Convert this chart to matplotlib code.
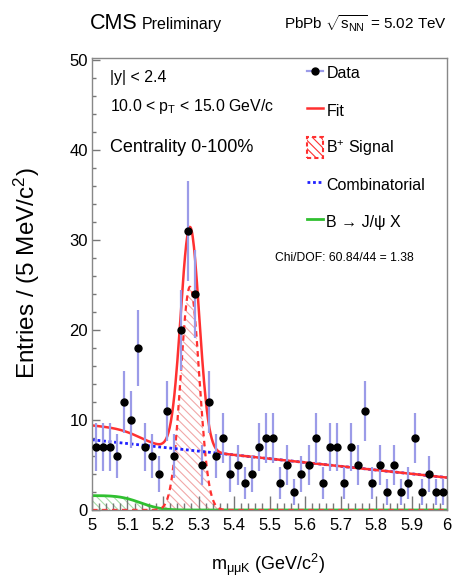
import math
import numpy as np
import matplotlib
matplotlib.use('Agg')
import matplotlib.pyplot as plt
from matplotlib import font_manager
from matplotlib.lines import Line2D
from matplotlib.patches import Patch

# B+ -> J/psi K+ invariant mass fit, PbPb 5.02 TeV, 10 < pT < 15 GeV/c

# -------------------------------------------------------
# Data (entries per bin)
# -------------------------------------------------------
mass_lo, mass_hi, n_bins = 5.0, 6.0, 50
counts = [7, 7, 7, 6, 12, 10, 18, 7, 6, 4,
          11, 6, 20, 31, 24, 5, 12, 6, 8, 4,
          5, 3, 4, 7, 8, 8, 3, 5, 2, 4,
          5, 8, 3, 7, 7, 3, 7, 5, 11, 3,
          5, 2, 5, 2, 3, 8, 2, 4, 2, 2]

# Fit components (per bin)
sig_amp, sig_mean, sig_sigma = 24.8, 5.276, 0.026
comb_lo, comb_hi = 7.8, 3.6
jpsix_amp, jpsix_edge, jpsix_width = 1.6, 5.137, 0.046

chi2_text = 'Chi/DOF: 60.84/44 = 1.38'

# -------------------------------------------------------
# Fonts
# -------------------------------------------------------
names = {f.name for f in font_manager.fontManager.ttflist}
family = 'Liberation Sans'
for cand in ['Liberation Sans Narrow', 'Arial Narrow']:
    if cand in names:
        family = cand
        break
plt.rcParams['font.family'] = [family, 'DejaVu Sans']
plt.rcParams['mathtext.fontset'] = 'custom'
plt.rcParams['mathtext.rm'] = family
plt.rcParams['mathtext.it'] = family + ':italic'
plt.rcParams['mathtext.default'] = 'regular'
plt.rcParams['hatch.linewidth'] = 0.8

# -------------------------------------------------------
# Curves
# -------------------------------------------------------
edges = np.linspace(mass_lo, mass_hi, n_bins + 1)
centers = 0.5 * (edges[:-1] + edges[1:])
y = np.array(counts, dtype=float)
yerr = np.sqrt(y)

m = np.linspace(mass_lo, mass_hi, 600)
signal = sig_amp * np.exp(-0.5 * ((m - sig_mean) / sig_sigma) ** 2)
comb = comb_lo + (comb_hi - comb_lo) * (m - mass_lo) / (mass_hi - mass_lo)
jpsix = jpsix_amp * 0.5 * np.array([math.erfc((v - jpsix_edge) / (jpsix_width * math.sqrt(2))) for v in m])
total = signal + comb + jpsix

# -------------------------------------------------------
# Figure
# -------------------------------------------------------
W, H = 466, 584
fig = plt.figure(figsize=(W / 100, H / 100), dpi=100)
ax = fig.add_axes([92 / W, 1 - 510 / H, 355 / W, 452 / H])

red = '#ff3030'
blue = '#2020ff'
green = '#30c030'
errc = '#9b9be8'

ax.fill_between(m, 0, signal, facecolor='none', edgecolor='#f2a8a8', hatch='\\\\\\\\', linewidth=0)
ax.fill_between(m, 0, jpsix, facecolor='none', edgecolor='#a8dca8', hatch='\\\\\\\\', linewidth=0)
ax.plot(m, jpsix, color=green, lw=2)
ax.plot(m, signal, color=red, lw=1.6, ls=(0, (2.5, 2)))
ax.plot(m, comb, color=blue, lw=2, ls=(0, (1, 1)))
ax.plot(m, total, color=red, lw=1.8)

ax.errorbar(centers, y, yerr=yerr, fmt='none', ecolor=errc, elinewidth=1.6, zorder=4)
ax.plot(centers, y, 'o', color='black', markersize=5, zorder=5)

ax.set_xlim(mass_lo, mass_hi)
ax.set_ylim(0, 50.2)
ax.set_xticks(np.round(np.arange(5.0, 6.01, 0.1), 1))
ax.set_xticklabels(['5', '5.1', '5.2', '5.3', '5.4', '5.5', '5.6', '5.7', '5.8', '5.9', '6'])
ax.set_xticks(np.arange(5.0, 6.001, 0.02), minor=True)
ax.set_yticks([0, 10, 20, 30, 40, 50])
ax.set_yticks(np.arange(0, 51, 2), minor=True)
ax.tick_params(axis='x', which='major', direction='in', length=10, width=1, color='#777', labelsize=12, pad=6)
ax.tick_params(axis='x', which='minor', direction='in', length=5, width=1, color='#777')
ax.tick_params(axis='y', which='major', direction='in', length=6, width=1, color='#777', labelsize=12, pad=3)
ax.tick_params(axis='y', which='minor', direction='in', length=3, width=1, color='#777')
for s in ax.spines.values():
    s.set_color('#888')
    s.set_linewidth(1)

ax.set_ylabel('Entries / (5 MeV/c$^{2}$)', fontsize=17.5)
ax.set_xlabel(r'm$_{\mu\mu K}$ (GeV/c$^{2}$)', fontsize=13)
ax.yaxis.set_label_coords(-0.141, 0.524)
ax.xaxis.set_label_coords(0.496, -0.093)

# Labels inside the frame
ax.text(0.051, 0.956, '|y| < 2.4', transform=ax.transAxes, fontsize=11.5, va='center')
ax.text(0.051, 0.892, '10.0 < p$_{T}$ < 15.0 GeV/c', transform=ax.transAxes, fontsize=11.4, va='center')
ax.text(0.051, 0.801, 'Centrality 0-100%', transform=ax.transAxes, fontsize=13, va='center')
ax.text(0.515, 0.558, chi2_text, transform=ax.transAxes, fontsize=8.7, va='center')

# Legend
handles = [
    Line2D([], [], color=errc, lw=1.6, marker='o', markersize=5, markerfacecolor='black', markeredgecolor='black'),
    Line2D([], [], color=red, lw=1.8),
    Patch(facecolor='none', edgecolor=red, hatch='\\\\\\\\', linestyle=(0, (2, 1.5)), linewidth=1.5),
    Line2D([], [], color=blue, lw=2, ls=(0, (1, 1))),
    Line2D([], [], color=green, lw=2),
]
labels = ['Data', 'Fit', 'B$^{+}$ Signal', 'Combinatorial', 'B \u2192 J/\u03c8 X']
leg = ax.legend(handles, labels, loc='upper left', bbox_to_anchor=(0.606, 0.990), frameon=False,
                fontsize=11.5, handlelength=1.0, handleheight=1.7, handletextpad=0.2,
                labelspacing=0.97, borderpad=0, borderaxespad=0)

# Header
fig.text(90 / W, 1 - 29 / H, 'CMS', fontsize=15.5, va='baseline')
fig.text(142 / W, 1 - 29 / H, 'Preliminary', fontsize=11.5, va='baseline')
fig.text(447 / W, 1 - 29 / H, r'PbPb $\sqrt{s_{NN}}$ = 5.02 TeV', fontsize=11, va='baseline', ha='right')

fig.savefig('out.png', dpi=100)
